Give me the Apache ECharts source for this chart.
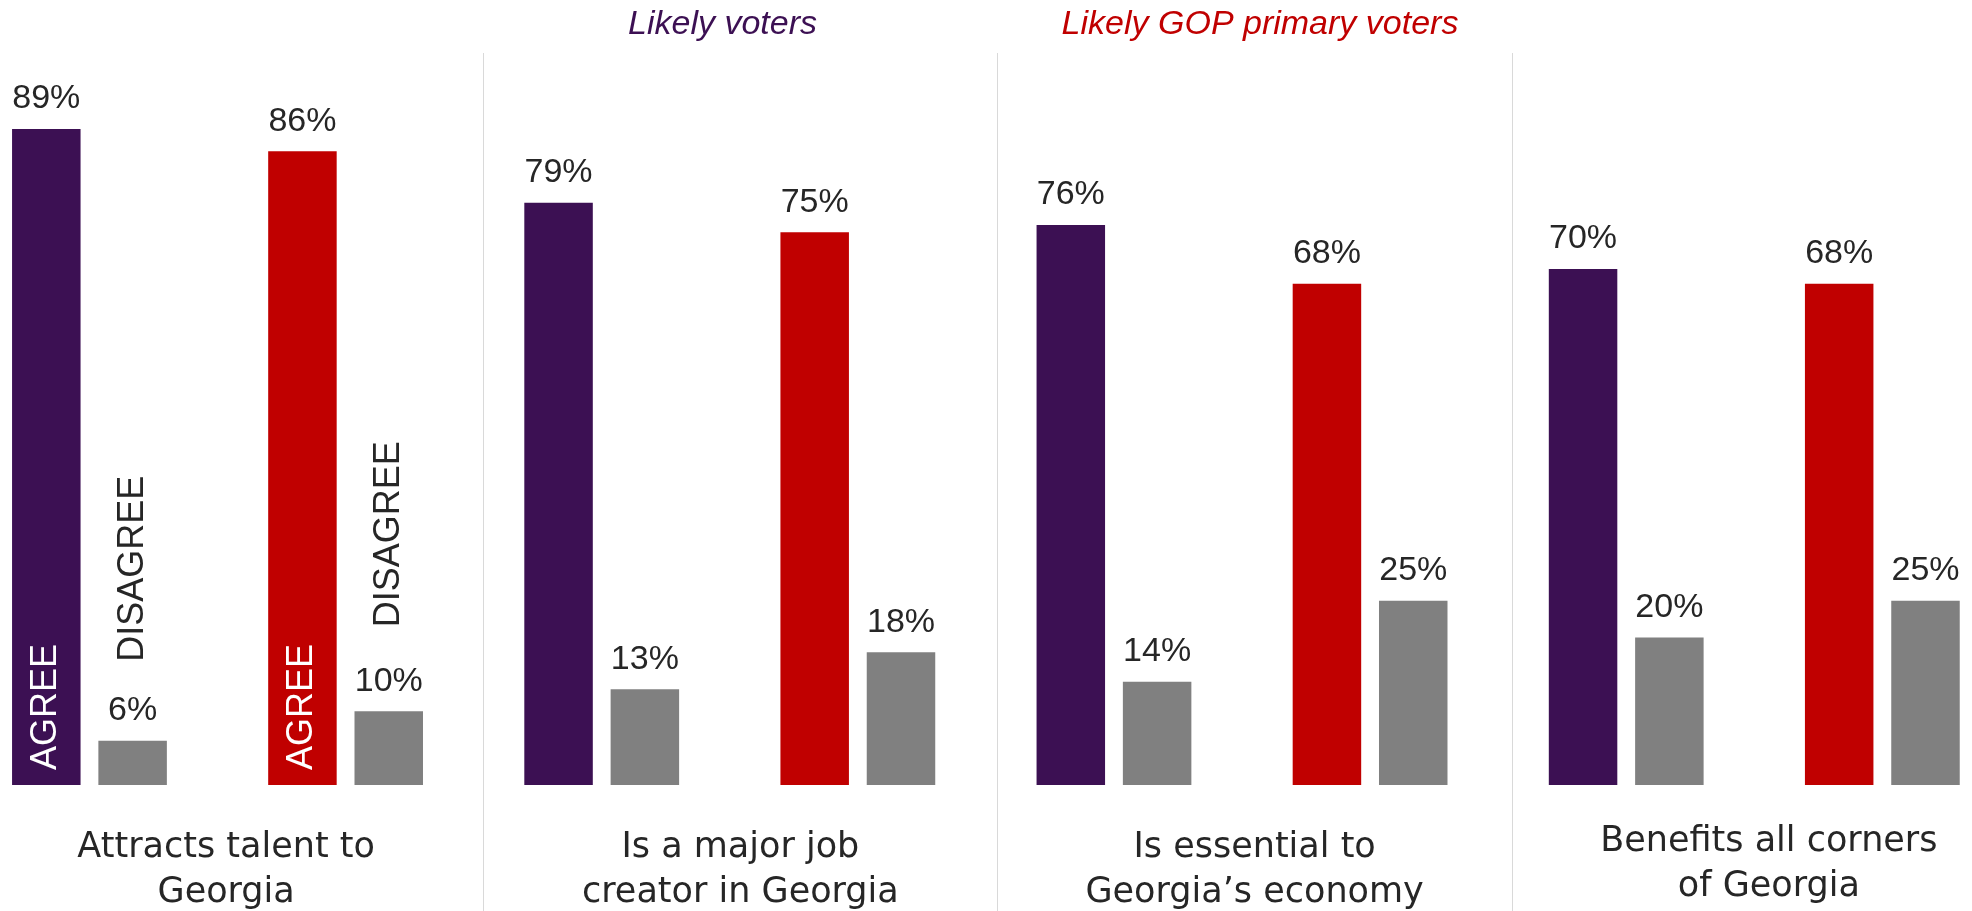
<!DOCTYPE html>
<html>
<head>
<meta charset="utf-8">
<script src="https://cdn.jsdelivr.net/npm/echarts@6/dist/echarts.min.js"></script>
<style>
html,body{margin:0;padding:0;background:#fff;}
#chart{width:1972px;height:911px;}
</style>
</head>
<body>
<div id="chart"></div>
<script>
// ---- data ----
const questions = [
  'Attracts talent to\nGeorgia',
  'Is a major job\ncreator in Georgia',
  'Is essential to\nGeorgia\u2019s economy',
  'Benefits all corners\nof Georgia'
];
const groups = ['Likely voters', 'Likely GOP primary voters'];
const lvAgree = [89, 79, 76, 70];
const lvDisagree = [6, 13, 14, 20];
const gopAgree = [86, 75, 68, 68];
const gopDisagree = [10, 18, 25, 25];
const agreeTag = 'AGREE';
const disagreeTag = 'DISAGREE';

// ---- styles ----
const PURPLE = '#3C1053', RED = '#C00000', GRAY = '#808080', TEXT = '#262626';
const groupColors = [PURPLE, RED];
const questionLift = [0, 0, 0, 6];     // small vertical nudge of bottom labels (px)
const disagreeTagDist = [79, 84];      // distance of DISAGREE tag above its bar (px)

// build 8 slots: question x group
const slots = [], agreeData = [], disagreeData = [], agreeTagData = [], disagreeTagData = [];
questions.forEach((q, i) => {
  [lvAgree, gopAgree].forEach((arr, g) => {
    slots.push(q + '|' + groups[g]);
    agreeData.push({ value: arr[i], itemStyle: { color: groupColors[g] } });
    const dis = g === 0 ? lvDisagree[i] : gopDisagree[i];
    disagreeData.push(dis);
    agreeTagData.push(i === 0 ? arr[i] : '-');
    disagreeTagData.push(i === 0 ? { value: dis, label: { distance: disagreeTagDist[g] } } : '-');
  });
});
const questionData = questions.map((q, i) => ({ value: q, textStyle: { padding: [0, 0, questionLift[i], 0] } }));

const BW = 68.5, GAP = '26%';
const chart = echarts.init(document.getElementById('chart'));
chart.setOption({
  animation: false,
  backgroundColor: '#fff',
  title: [
    { text: groups[0], left: 717.5, top: 3, textAlign: 'center',
      textStyle: { fontFamily: 'Liberation Sans', fontStyle: 'italic', fontWeight: 'normal', fontSize: 34, color: PURPLE } },
    { text: groups[1], left: 1255, top: 3, textAlign: 'center',
      textStyle: { fontFamily: 'Liberation Sans', fontStyle: 'italic', fontWeight: 'normal', fontSize: 34, color: RED } }
  ],
  grid: [
    { left: -38.6, width: 2049, top: 48, bottom: 126, outerBoundsMode: 'none', containLabel: false },
    { left: -31, width: 2057, top: 53, bottom: 0, outerBoundsMode: 'none', containLabel: false }
  ],
  xAxis: [
    { type: 'category', gridIndex: 0, data: slots, show: false },
    { type: 'category', gridIndex: 0, data: slots, show: false },
    { type: 'category', gridIndex: 1, data: questionData,
      axisLine: { show: false }, axisTick: { show: false },
      splitLine: { show: true, interval: 0, lineStyle: { color: '#d9d9d9', width: 1 } },
      axisLabel: { inside: true, margin: -4, interval: 0, fontFamily: 'DejaVu Sans', fontSize: 35,
        lineHeight: 45, color: TEXT } }
  ],
  yAxis: [
    { type: 'value', gridIndex: 0, min: 0, max: 100, show: false },
    { type: 'value', gridIndex: 1, min: 0, max: 100, show: false }
  ],
  series: [
    { type: 'bar', name: 'Agree', xAxisIndex: 0, yAxisIndex: 0, data: agreeData,
      barWidth: BW, barGap: GAP,
      label: { show: true, position: 'top', distance: 13, formatter: '{c}%',
        fontFamily: 'Liberation Sans', fontSize: 34, color: TEXT } },
    { type: 'bar', name: 'Disagree', xAxisIndex: 0, yAxisIndex: 0, data: disagreeData,
      barWidth: BW, barGap: GAP, itemStyle: { color: GRAY },
      label: { show: true, position: 'top', distance: 13, formatter: '{c}%',
        fontFamily: 'Liberation Sans', fontSize: 34, color: TEXT } },
    { type: 'bar', name: 'AgreeTag', xAxisIndex: 1, yAxisIndex: 0, data: agreeTagData,
      barWidth: BW, barGap: GAP, itemStyle: { color: 'rgba(0,0,0,0)' }, z: 5,
      label: { show: true, position: 'insideBottom', distance: 15, rotate: 90,
        align: 'left', verticalAlign: 'middle', formatter: agreeTag,
        fontFamily: 'Liberation Sans', fontSize: 36, color: '#fff' } },
    { type: 'bar', name: 'DisagreeTag', xAxisIndex: 1, yAxisIndex: 0, data: disagreeTagData,
      barWidth: BW, barGap: GAP, itemStyle: { color: 'rgba(0,0,0,0)' }, z: 5,
      label: { show: true, position: 'top', distance: 84, rotate: 90,
        align: 'left', verticalAlign: 'middle', formatter: disagreeTag,
        fontFamily: 'Liberation Sans', fontSize: 36, color: TEXT } }
  ]
});
</script>
</body>
</html>
